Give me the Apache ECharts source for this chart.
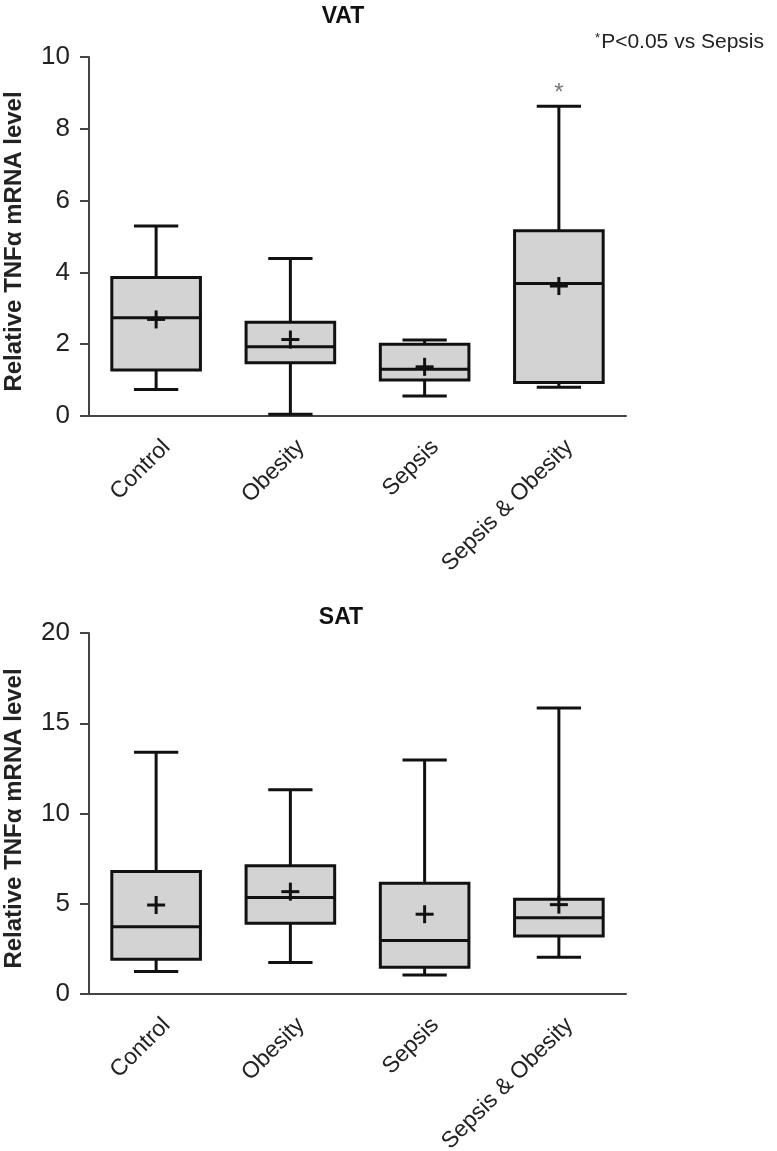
<!DOCTYPE html>
<html>
<head>
<meta charset="utf-8">
<script src="https://cdn.jsdelivr.net/npm/echarts@6/dist/echarts.min.js"></script>
<style>
html,body{margin:0;padding:0;background:#fff;}
#chart{width:777px;height:1151px;}
</style>
</head>
<body>
<div id="chart"></div>
<script>
const categories = ['Control', 'Obesity', 'Sepsis', 'Sepsis & Obesity'];

// VAT panel
const vatLow    = [0.74, 0.05, 0.56, 0.80];
const vatQ1     = [1.28, 1.48, 1.00, 0.93];
const vatMedian = [2.74, 1.93, 1.30, 3.69];
const vatQ3     = [3.86, 2.61, 2.00, 5.16];
const vatHigh   = [5.29, 4.39, 2.12, 8.63];
const vatMean   = [2.69, 2.13, 1.37, 3.62];
const vatMarks  = ['', '', '', '*'];
const vatTicks  = [0, 2, 4, 6, 8, 10];

// SAT panel
const satLow    = [1.24, 1.74, 1.05, 2.03];
const satQ1     = [1.92, 3.92, 1.48, 3.22];
const satMedian = [3.73, 5.34, 2.96, 4.23];
const satQ3     = [6.78, 7.10, 6.13, 5.25];
const satHigh   = [13.40, 11.31, 12.97, 15.85];
const satMean   = [4.93, 5.67, 4.42, 4.95];
const satMarks  = ['', '', '', ''];
const satTicks  = [0, 5, 10, 15, 20];

const yAxisName = 'Relative TNFα mRNA level';

function rows(low, q1, med, q3, high, mean) {
  return categories.map((c, i) => [i, low[i], q1[i], med[i], q3[i], high[i], mean[i]]);
}

function makeRender(marks) {
  return function (params, api) {
    const i = api.value(0);
    const low = api.coord([i, api.value(1)]);
    const q1 = api.coord([i, api.value(2)]);
    const med = api.coord([i, api.value(3)]);
    const q3 = api.coord([i, api.value(4)]);
    const high = api.coord([i, api.value(5)]);
    const mean = api.coord([i, api.value(6)]);
    const band = api.size([1, 0])[0];
    const bw = band * 0.66;
    const cw = bw * 0.5;
    const x = low[0];
    const st = { stroke: '#111', lineWidth: 3, fill: null };
    const ch = [];
    ch.push({ type: 'line', shape: { x1: x, y1: q3[1], x2: x, y2: high[1] }, style: st });
    ch.push({ type: 'line', shape: { x1: x - cw / 2, y1: high[1], x2: x + cw / 2, y2: high[1] }, style: st });
    ch.push({ type: 'line', shape: { x1: x, y1: q1[1], x2: x, y2: low[1] }, style: st });
    ch.push({ type: 'line', shape: { x1: x - cw / 2, y1: low[1], x2: x + cw / 2, y2: low[1] }, style: st });
    ch.push({ type: 'rect', shape: { x: x - bw / 2, y: q3[1], width: bw, height: q1[1] - q3[1] },
      style: { fill: '#d3d3d3', stroke: '#111', lineWidth: 3 } });
    ch.push({ type: 'line', shape: { x1: x - bw / 2, y1: med[1], x2: x + bw / 2, y2: med[1] }, style: st });
    ch.push({ type: 'line', shape: { x1: x - 9, y1: mean[1], x2: x + 9, y2: mean[1] }, style: st });
    ch.push({ type: 'line', shape: { x1: x, y1: mean[1] - 9, x2: x, y2: mean[1] + 9 }, style: st });
    const m = marks[params.dataIndex];
    if (m) {
      ch.push({ type: 'text', x: x, y: high[1] - 13,
        style: { text: m, fill: '#777', font: '24px "Liberation Sans", Arial, sans-serif', align: 'center', verticalAlign: 'middle' } });
    }
    return { type: 'group', children: ch };
  };
}

const axisColor = '#444';
const font = '"Liberation Sans", Arial, Helvetica, sans-serif';

function xAxisCfg(gi) {
  return {
    type: 'category', gridIndex: gi, data: categories, boundaryGap: true,
    axisLine: { lineStyle: { color: axisColor, width: 2 } },
    axisTick: { alignWithLabel: true, length: 9, lineStyle: { color: axisColor, width: 2 } },
    axisLabel: { interval: 0, rotate: 45, margin: 17, lineHeight: 30,
      formatter: v => '\n' + v,
      fontSize: 23, color: '#222', fontFamily: font },
    splitLine: { show: false }
  };
}
function yAxisCfg(gi, ticks) {
  return {
    type: 'value', gridIndex: gi, min: ticks[0], max: ticks[ticks.length - 1],
    interval: ticks[1] - ticks[0],
    name: yAxisName, nameLocation: 'middle', nameGap: 63,
    nameTextStyle: { fontSize: 24, fontWeight: 'bold', color: '#222', fontFamily: font, padding: [0, 10, 0, 0] },
    axisLine: { show: true, lineStyle: { color: axisColor, width: 2 } },
    axisTick: { show: true, length: 9, lineStyle: { color: axisColor, width: 2 } },
    axisLabel: { margin: 19, fontSize: 26, color: '#222', fontFamily: font },
    splitLine: { show: false }
  };
}

const chart = echarts.init(document.getElementById('chart'), null, { renderer: 'canvas' });
chart.setOption({
  backgroundColor: '#fff',
  animation: false,
  title: [
    { text: 'VAT', left: 338, top: 0, textAlign: 'center',
      textStyle: { fontSize: 23, fontWeight: 'bold', color: '#111', fontFamily: font } },
    { text: 'SAT', left: 336, top: 601, textAlign: 'center',
      textStyle: { fontSize: 23, fontWeight: 'bold', color: '#111', fontFamily: font } },
    { text: '{s|*}{t|P<0.05 vs Sepsis}', right: 8, top: 27,
      textStyle: { fontWeight: 'normal', rich: {
        s: { fontSize: 13, fontWeight: 'normal', verticalAlign: 'top', color: '#222', fontFamily: font, padding: [0, 1, 8, 0] },
        t: { fontSize: 21, fontWeight: 'normal', color: '#222', fontFamily: font } } } }
  ],
  grid: [
    { left: 89, right: 151, top: 57, bottom: 735, outerBoundsMode: 'none', containLabel: false },
    { left: 89, right: 151, top: 633, bottom: 157, outerBoundsMode: 'none', containLabel: false }
  ],
  xAxis: [xAxisCfg(0), xAxisCfg(1)],
  yAxis: [yAxisCfg(0, vatTicks), yAxisCfg(1, satTicks)],
  series: [
    { type: 'custom', xAxisIndex: 0, yAxisIndex: 0, renderItem: makeRender(vatMarks),
      encode: { x: 0, y: [1, 2, 3, 4, 5, 6] },
      data: rows(vatLow, vatQ1, vatMedian, vatQ3, vatHigh, vatMean) },
    { type: 'custom', xAxisIndex: 1, yAxisIndex: 1, renderItem: makeRender(satMarks),
      encode: { x: 0, y: [1, 2, 3, 4, 5, 6] },
      data: rows(satLow, satQ1, satMedian, satQ3, satHigh, satMean) }
  ]
});
</script>
</body>
</html>
